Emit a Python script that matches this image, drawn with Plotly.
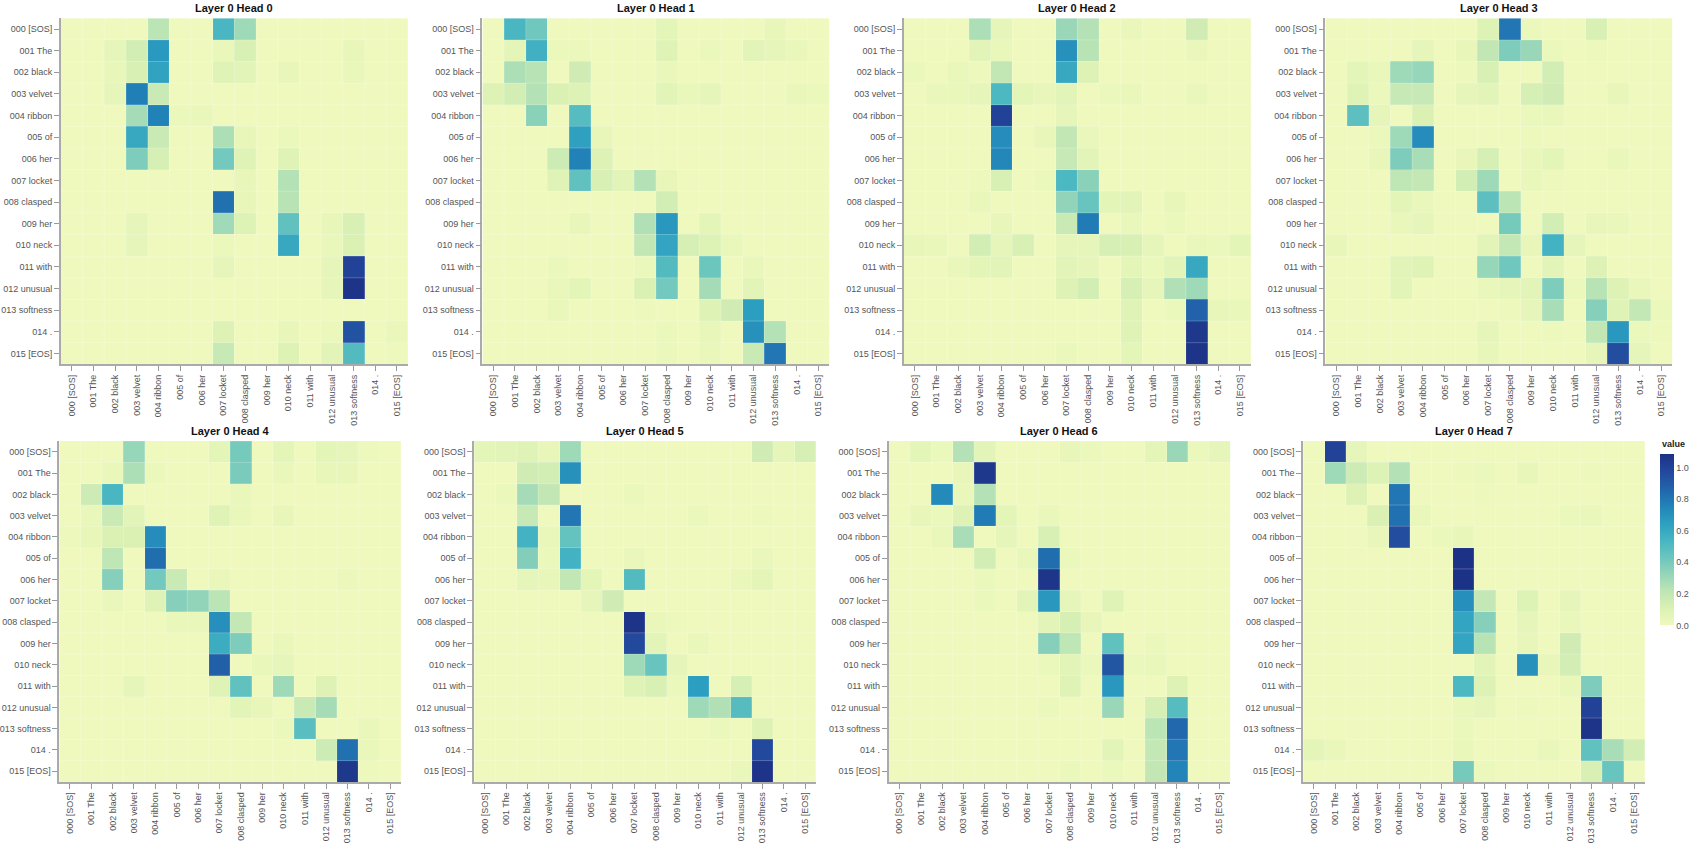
import plotly.graph_objects as go

tokens = ['000 [SOS]', '001 The', '002 black', '003 velvet', '004 ribbon', '005 of',
          '006 her', '007 locket', '008 clasped', '009 her', '010 neck', '011 with',
          '012 unusual', '013 softness', '014 .', '015 [EOS]']

head_0 = [
    [0, 0, 0, 0, .22, 0, 0, .53, .30, 0, 0, 0, 0, 0, 0, 0],
    [0, 0, .05, .14, .67, 0, 0, .03, .12, 0, 0, 0, 0, .04, 0, 0],
    [0, 0, .04, .12, .63, 0, 0, .08, .07, 0, .04, 0, 0, .03, 0, 0],
    [0, 0, .05, .77, .17, 0, 0, 0, 0, 0, 0, 0, 0, 0, 0, 0],
    [0, 0, 0, .28, .76, .02, .03, 0, 0, 0, 0, 0, 0, 0, 0, 0],
    [0, 0, 0, .60, .17, 0, 0, .26, .04, 0, .02, 0, 0, 0, 0, 0],
    [0, 0, 0, .38, .13, 0, 0, .41, .08, 0, .08, 0, 0, 0, 0, 0],
    [0, 0, 0, 0, 0, 0, 0, 0, .04, 0, .24, 0, 0, 0, 0, 0],
    [0, 0, 0, 0, 0, 0, 0, .82, .04, 0, .23, 0, 0, 0, 0, 0],
    [0, 0, 0, .05, 0, 0, 0, .29, .10, 0, .46, 0, .04, .12, 0, 0],
    [0, 0, 0, .05, 0, 0, 0, .02, 0, 0, .60, 0, .03, .11, 0, 0],
    [0, 0, 0, 0, 0, 0, 0, .05, 0, 0, 0, 0, .05, 1.00, 0, 0],
    [0, 0, 0, 0, 0, 0, 0, 0, 0, 0, 0, 0, .05, 1.07, 0, 0],
    [0, 0, 0, 0, 0, 0, 0, 0, 0, 0, 0, 0, 0, 0, 0, 0],
    [0, 0, 0, 0, 0, 0, 0, .09, 0, 0, .04, 0, .02, .93, 0, .03],
    [0, 0, 0, 0, 0, 0, 0, .18, 0, 0, .09, 0, .07, .50, 0, .01],
]

head_1 = [
    [0, .53, .42, 0, 0, 0, 0, 0, .06, 0, 0, 0, 0, .04, 0, 0],
    [0, .06, .56, .02, .02, 0, 0, 0, .08, 0, .02, 0, .07, .05, .03, 0],
    [0, .26, .23, 0, .15, 0, 0, 0, .03, 0, 0, 0, 0, 0, 0, 0],
    [.09, .14, .24, .11, .10, 0, 0, 0, .07, .03, .05, 0, 0, 0, .03, .02],
    [0, 0, .35, 0, .49, 0, 0, 0, 0, 0, 0, 0, 0, 0, 0, 0],
    [0, 0, 0, 0, .64, .04, 0, 0, 0, 0, 0, 0, 0, 0, 0, 0],
    [0, 0, 0, .16, .76, .09, 0, 0, 0, 0, 0, 0, 0, 0, 0, 0],
    [0, 0, 0, .08, .46, .12, .07, .24, .04, 0, 0, 0, 0, 0, 0, 0],
    [0, 0, 0, 0, 0, 0, 0, 0, .14, 0, 0, 0, 0, 0, 0, 0],
    [0, 0, 0, 0, .04, 0, 0, .25, .68, 0, .06, 0, 0, 0, 0, 0],
    [0, 0, 0, 0, 0, 0, 0, .20, .62, .13, .10, .03, 0, 0, 0, 0],
    [0, 0, 0, .02, 0, 0, 0, .02, .50, 0, .43, 0, .03, 0, 0, 0],
    [0, 0, 0, .03, .06, 0, 0, .11, .41, 0, .28, 0, .07, 0, 0, 0],
    [0, 0, 0, .03, 0, 0, 0, .01, 0, 0, .09, .15, .65, 0, 0, 0],
    [0, 0, 0, 0, 0, 0, 0, 0, .02, 0, .04, 0, .70, .24, 0, 0],
    [0, 0, 0, 0, 0, 0, 0, 0, .02, 0, .03, 0, .17, .80, 0, 0],
]

head_2 = [
    [0, 0, 0, .26, .05, 0, 0, .31, .24, 0, .03, 0, 0, .15, 0, 0],
    [0, 0, 0, .07, .03, 0, 0, .70, .23, 0, 0, 0, 0, .03, 0, 0],
    [.02, 0, .03, .01, .20, 0, 0, .60, .09, 0, 0, 0, 0, 0, 0, 0],
    [0, .03, .03, .05, .52, .06, .04, .07, 0, .02, .03, 0, 0, .03, 0, 0],
    [0, 0, 0, 0, 1.00, 0, 0, .05, 0, 0, 0, 0, 0, 0, 0, 0],
    [0, 0, 0, 0, .72, 0, .04, .20, .03, 0, 0, 0, 0, 0, 0, 0],
    [0, 0, 0, 0, .74, 0, 0, .18, .07, 0, 0, 0, 0, 0, 0, 0],
    [0, 0, 0, .01, .12, 0, .02, .52, .35, 0, 0, 0, 0, 0, 0, 0],
    [0, 0, 0, .03, 0, 0, 0, .33, .44, .06, .07, 0, .04, 0, 0, 0],
    [0, 0, 0, 0, .04, 0, 0, .17, .78, 0, .03, 0, .02, 0, 0, 0],
    [.04, .03, 0, .14, .05, .12, 0, .05, .05, .13, .12, .05, 0, .03, .02, .06],
    [0, 0, .03, .06, .07, 0, 0, .07, .05, 0, .06, .02, .07, .60, 0, 0],
    [0, 0, 0, 0, 0, 0, 0, .09, .14, 0, .13, .05, .25, .30, 0, 0],
    [0, 0, 0, 0, 0, 0, 0, 0, 0, 0, .08, 0, .02, .87, .04, .03],
    [0, 0, 0, 0, 0, 0, 0, 0, 0, 0, .08, 0, 0, 1.05, 0, 0],
    [0, 0, 0, 0, 0, 0, 0, .02, 0, 0, .06, 0, 0, 1.07, 0, 0],
]

head_3 = [
    [0, 0, 0, 0, 0, 0, 0, .10, .80, .02, 0, 0, .12, 0, 0, 0],
    [0, 0, 0, 0, .05, 0, .04, .20, .38, .31, .02, 0, .01, 0, 0, 0],
    [0, .06, .03, .30, .32, 0, .01, .12, 0, 0, .14, 0, 0, 0, 0, 0],
    [0, .08, .02, .18, .18, 0, .05, .07, 0, .13, .15, 0, 0, .04, 0, 0],
    [0, .47, .05, 0, .11, 0, 0, 0, 0, .02, .03, 0, 0, 0, 0, 0],
    [0, 0, .02, .30, .72, 0, 0, 0, 0, .01, 0, 0, 0, 0, 0, 0],
    [0, 0, .04, .38, .27, 0, .04, .13, 0, .03, .06, 0, 0, .03, 0, 0],
    [0, 0, 0, .21, .19, 0, .14, .30, 0, .03, .01, 0, 0, 0, 0, 0],
    [0, 0, 0, .06, .03, 0, 0, .47, .22, 0, 0, 0, 0, 0, 0, 0],
    [0, 0, 0, .03, .05, 0, 0, 0, .40, 0, .14, 0, .04, .03, 0, 0],
    [.04, 0, 0, 0, 0, 0, 0, .07, .19, .04, .55, .05, 0, 0, 0, 0],
    [0, 0, 0, .07, .08, 0, 0, .32, .42, 0, .07, 0, .09, 0, 0, 0],
    [0, 0, 0, .07, 0, 0, 0, .03, .05, .07, .38, .02, .23, .09, .03, 0],
    [0, 0, 0, 0, 0, 0, 0, 0, .01, .05, .27, 0, .36, .08, .19, .02],
    [0, 0, 0, 0, 0, 0, 0, .05, 0, 0, .01, 0, .20, .68, .02, .01],
    [0, 0, 0, 0, 0, 0, 0, .04, 0, 0, 0, 0, .05, .95, .05, 0],
]

head_4 = [
    [0, 0, 0, .32, 0, 0, 0, .06, .40, 0, .06, 0, .06, .05, .01, 0],
    [0, 0, .03, .26, .02, 0, 0, 0, .39, 0, .03, 0, .04, .04, 0, 0],
    [0, .16, .53, 0, 0, 0, 0, 0, .03, 0, 0, 0, 0, 0, 0, 0],
    [0, .03, .17, .07, 0, 0, 0, .08, .03, 0, .04, 0, 0, 0, 0, 0],
    [.01, .04, .11, .11, .72, 0, 0, 0, 0, 0, 0, 0, 0, 0, 0, 0],
    [0, 0, .21, 0, .83, 0, 0, 0, 0, 0, 0, 0, 0, 0, 0, 0],
    [0, 0, .36, 0, .41, .17, 0, .03, 0, 0, 0, 0, 0, .02, 0, 0],
    [0, 0, .03, 0, .08, .36, .33, .22, 0, 0, 0, 0, 0, 0, 0, 0],
    [0, 0, 0, 0, 0, .03, .03, .71, .19, 0, 0, 0, 0, 0, 0, 0],
    [0, 0, 0, 0, 0, 0, 0, .58, .38, 0, .03, 0, 0, 0, 0, 0],
    [0, 0, 0, 0, 0, 0, 0, .88, 0, .03, .05, 0, 0, 0, 0, 0],
    [0, 0, 0, .05, 0, 0, 0, .08, .46, 0, .30, 0, .09, 0, 0, 0],
    [0, 0, 0, 0, 0, 0, 0, 0, .07, .04, 0, .17, .28, 0, 0, 0],
    [0, 0, 0, 0, 0, 0, 0, 0, 0, 0, .02, .48, 0, 0, .03, 0],
    [0, 0, 0, 0, 0, 0, 0, 0, 0, 0, 0, 0, .16, .82, .03, 0],
    [0, 0, 0, 0, 0, 0, 0, 0, 0, 0, 0, 0, 0, 1.05, .01, 0],
]

head_5 = [
    [.06, .07, .08, .04, .30, 0, 0, 0, 0, 0, 0, 0, 0, .15, .05, .13],
    [0, 0, .15, .14, .70, 0, 0, 0, 0, 0, 0, 0, 0, 0, 0, 0],
    [0, .02, .28, .20, 0, 0, 0, .02, 0, 0, 0, 0, 0, 0, 0, 0],
    [0, 0, .18, 0, .80, 0, 0, 0, 0, 0, .02, 0, 0, .01, 0, 0],
    [0, 0, .55, .03, .45, 0, 0, 0, 0, 0, 0, 0, 0, 0, 0, 0],
    [0, 0, .37, .02, .55, 0, 0, .03, 0, 0, 0, 0, 0, .03, 0, 0],
    [0, 0, .05, .04, .20, .06, 0, .50, 0, 0, 0, 0, .03, .06, 0, 0],
    [0, 0, 0, 0, 0, .05, .15, 0, 0, 0, 0, 0, 0, 0, 0, 0],
    [0, 0, 0, 0, 0, 0, 0, 1.07, .03, .01, 0, 0, 0, 0, 0, 0],
    [0, 0, 0, 0, 0, 0, 0, .97, .07, 0, .03, 0, 0, 0, 0, 0],
    [0, 0, 0, 0, 0, 0, 0, .30, .44, .05, 0, 0, 0, 0, 0, 0],
    [0, 0, 0, 0, 0, 0, 0, .08, .12, .02, .65, 0, .13, 0, 0, 0],
    [0, 0, 0, 0, 0, 0, 0, 0, 0, 0, .30, .25, .49, 0, 0, 0],
    [0, 0, 0, 0, 0, 0, 0, 0, 0, 0, 0, .02, 0, .09, 0, 0],
    [0, 0, 0, 0, 0, 0, 0, 0, 0, 0, 0, 0, 0, .97, 0, 0],
    [0, 0, 0, 0, 0, 0, 0, 0, 0, 0, 0, 0, .03, 1.07, 0, 0],
]

head_6 = [
    [0, .06, .02, .24, .07, 0, 0, 0, .04, .02, 0, 0, .06, .31, .02, .05],
    [0, 0, 0, .04, 1.05, 0, 0, 0, 0, 0, 0, 0, 0, 0, 0, 0],
    [0, 0, .73, .03, .24, 0, 0, 0, 0, 0, 0, 0, 0, 0, 0, 0],
    [0, .04, .02, .09, .78, .06, 0, .03, 0, 0, 0, 0, 0, 0, 0, 0],
    [0, 0, .03, .27, 0, .05, 0, .12, 0, 0, 0, 0, 0, 0, 0, 0],
    [0, 0, 0, 0, .14, 0, .03, .83, .02, 0, 0, 0, 0, 0, 0, 0],
    [0, 0, 0, 0, .02, 0, 0, 1.06, 0, 0, 0, 0, 0, 0, 0, 0],
    [0, 0, 0, 0, .02, 0, .07, .68, .05, 0, .08, 0, 0, 0, 0, 0],
    [0, 0, 0, 0, 0, 0, 0, .07, .13, .04, 0, 0, 0, 0, 0, 0],
    [0, 0, 0, 0, 0, 0, 0, .36, .21, 0, .46, 0, .02, 0, 0, 0],
    [0, 0, 0, 0, 0, 0, 0, .02, .07, .02, .92, .02, .03, 0, 0, 0],
    [0, 0, 0, 0, 0, 0, 0, 0, .08, 0, .68, 0, 0, .09, 0, 0],
    [0, 0, 0, 0, 0, 0, 0, .02, 0, 0, .31, 0, .13, .49, 0, 0],
    [0, 0, 0, 0, 0, 0, 0, 0, 0, 0, 0, 0, .22, .85, 0, 0],
    [0, 0, 0, 0, 0, 0, 0, 0, 0, 0, .07, 0, .19, .80, 0, 0],
    [0, 0, 0, 0, 0, 0, 0, 0, .02, 0, .02, 0, .20, .75, 0, 0],
]

head_7 = [
    [0, 1.00, .05, 0, 0, 0, 0, 0, 0, 0, 0, 0, 0, 0, 0, 0],
    [0, .30, .16, .10, .24, 0, 0, .01, .02, 0, .04, 0, 0, .01, 0, 0],
    [0, 0, .09, 0, .80, 0, 0, 0, .01, 0, 0, 0, 0, 0, 0, 0],
    [0, 0, 0, .11, .82, .03, 0, 0, 0, 0, 0, 0, .02, .03, 0, 0],
    [0, 0, 0, .04, .95, 0, .02, .04, 0, 0, 0, 0, 0, 0, 0, 0],
    [0, 0, 0, 0, 0, 0, 0, 1.08, 0, 0, 0, 0, 0, 0, 0, 0],
    [0, 0, 0, 0, 0, 0, 0, 1.08, 0, 0, 0, 0, 0, 0, 0, 0],
    [0, 0, 0, 0, 0, 0, 0, .71, .19, 0, .10, 0, .05, 0, 0, 0],
    [0, 0, 0, 0, 0, 0, 0, .62, .36, 0, .05, 0, .03, 0, 0, 0],
    [0, 0, 0, 0, 0, 0, 0, .62, .23, 0, .04, 0, .15, 0, 0, 0],
    [0, 0, 0, 0, 0, 0, 0, 0, .07, 0, .70, .04, .14, 0, 0, 0],
    [0, 0, 0, 0, 0, 0, 0, .52, .10, 0, 0, 0, .03, .38, 0, 0],
    [0, 0, 0, 0, 0, 0, 0, .03, .05, 0, .01, 0, 0, 1.00, 0, 0],
    [0, 0, 0, 0, 0, 0, 0, .02, 0, 0, 0, 0, 0, 1.07, 0, 0],
    [.06, .03, 0, 0, 0, 0, 0, .03, 0, 0, 0, .03, 0, .46, .27, .14],
    [0, 0, 0, 0, 0, 0, 0, .40, .02, 0, 0, 0, 0, .12, .44, 0],
]

heads = [head_0, head_1, head_2, head_3, head_4, head_5, head_6, head_7]

# vega's yellowgreenblue ramp
ramp = ['#eff9bd', '#dbf1b4', '#bde5b5', '#94d5b9', '#69c5be', '#45b4c2',
        '#2c9ec0', '#2182b8', '#2163aa', '#23479c', '#1c3185']
cscale = [[i / 10, c] for i, c in enumerate(ramp)]

W = 1692
H = 843

# panel boxes in pixels: left, top, size
boxes = []
for left in [59, 481, 903, 1325]:
    boxes.append((left, 18.3, 347.3))
for left in [57.3, 472.7, 887.7, 1302.7]:
    boxes.append((left, 442.7, 342))

fig = go.Figure()
layout = {}
notes = []
seams = []

for k, z in enumerate(heads):
    left, top, size = boxes[k]
    n = '' if k == 0 else str(k + 1)

    fig.add_trace(go.Heatmap(
        z=z, x=tokens, y=tokens,
        coloraxis='coloraxis',
        xaxis='x' + n, yaxis='y' + n,
        hovertemplate='%{y} / %{x}: %{z}<extra></extra>'))

    layout['xaxis' + n] = dict(
        domain=[left / W, (left + size) / W],
        anchor='y' + n,
        type='category', categoryorder='array', categoryarray=tokens,
        tickangle=-90, ticks='outside', ticklen=5, tickwidth=1, tickcolor='#999999',
        tickfont=dict(family='Liberation Sans', size=9, color='#555555'),
        showline=True, linecolor='#aaaaaa', linewidth=1.5,
        showgrid=False, zeroline=False, fixedrange=True)
    layout['yaxis' + n] = dict(
        domain=[1 - (top + size) / H, 1 - top / H],
        anchor='x' + n,
        type='category', categoryorder='array', categoryarray=tokens,
        autorange='reversed',
        ticks='outside', ticklen=5, tickwidth=1, tickcolor='#999999',
        tickfont=dict(family='Liberation Sans', size=9, color='#555555'),
        showline=True, linecolor='#aaaaaa', linewidth=1.5,
        showgrid=False, zeroline=False, fixedrange=True)

    # faint seams between the cells
    for i in range(1, len(tokens)):
        seams.append(dict(type='line', xref='x' + n + ' domain', yref='y' + n + ' domain',
                          x0=i / len(tokens), x1=i / len(tokens), y0=0, y1=1,
                          line=dict(color='white', width=1), opacity=0.22))
        seams.append(dict(type='line', xref='x' + n + ' domain', yref='y' + n + ' domain',
                          x0=0, x1=1, y0=i / len(tokens), y1=i / len(tokens),
                          line=dict(color='white', width=1), opacity=0.22))

    notes.append(dict(
        text='<b>Layer 0 Head %d</b>' % k,
        xref='paper', yref='paper',
        x=(left + size / 2) / W, y=1 - (top - 2) / H,
        xanchor='center', yanchor='bottom', showarrow=False,
        font=dict(family='Liberation Sans', size=11, color='#111111')))

notes.append(dict(
    text='<b>value</b>',
    xref='paper', yref='paper',
    x=1660 / W, y=1 - 453 / H,
    xanchor='left', yanchor='bottom', showarrow=False,
    font=dict(family='Liberation Sans', size=9, color='#222222')))

fig.update_layout(
    width=W,
    height=H,
    margin=dict(l=0, r=0, t=0, b=0),
    paper_bgcolor='white',
    plot_bgcolor='white',
    coloraxis=dict(
        colorscale=cscale, cmin=0, cmax=1.085,
        colorbar=dict(
            x=1660 / W, xanchor='left', xpad=0,
            y=1 - 456 / H, yanchor='top', ypad=0,
            thickness=14, thicknessmode='pixels',
            len=171, lenmode='pixels',
            outlinewidth=0,
            tickvals=[0, .2, .4, .6, .8, 1.0],
            tickformat='.1f', ticks='',
            tickfont=dict(family='Liberation Sans', size=9, color='#555555'))),
    annotations=notes,
    shapes=seams,
    **layout)

fig.write_html("out.html", config={'displayModeBar': False},
               post_script="document.body.style.margin='0'")
